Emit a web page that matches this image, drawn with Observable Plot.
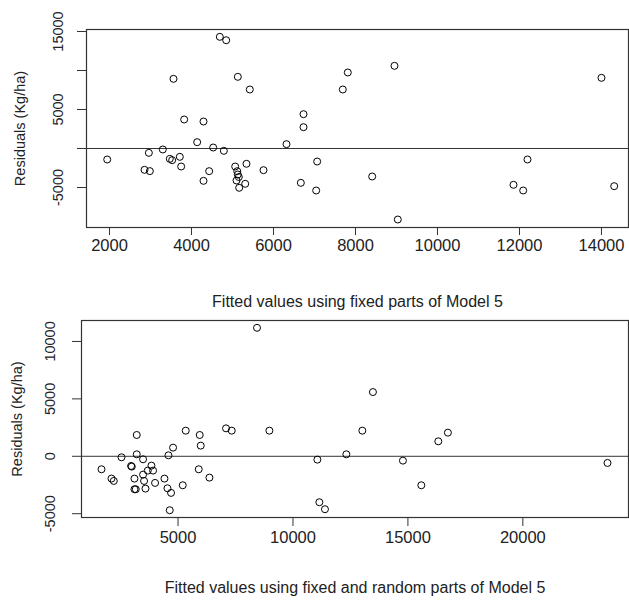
<!DOCTYPE html>
<html>
<head>
<meta charset="utf-8">
<script src="https://cdn.jsdelivr.net/npm/d3@7"></script>
<script src="https://cdn.jsdelivr.net/npm/@observablehq/plot@0.6"></script>
<style>
  html, body { margin: 0; padding: 0; background: #fff; }
  #chart { width: 629px; }
  #chart svg { display: block; }
</style>
</head>
<body>
<div id="chart"></div>
<script>
// Panel 1: fitted values (fixed parts) vs residuals
const fixedX = [1944,2854,2984,2960,3300,3471,3528,3715,3748,3561,3821,4138,4293,4293,4431,4529,4691,4846,4789,5066,5115,5129,5154,5098,5163,5341,5310,5130,5422,5756,6317,6732,6732,6667,7065,7041,7690,7812,8951,8407,9032,14000,12195,11854,12090,14310];
const fixedY = [-1410,-2735,-2900,-555,-128,-1325,-1496,-1068,-2308,8932,3718,812,3461,-4145,-2906,128,14316,13880,-299,-2308,-2910,-3333,-3654,-4103,-5038,-1962,-4526,9188,7564,-2778,556,4402,2735,-4402,-1667,-5385,7564,9744,10598,-3590,-9103,9060,-1410,-4654,-5385,-4830];
// Panel 2: fitted values (fixed + random parts) vs residuals
const fullX = [1670,2104,2204,2539,2957,2987,3204,3204,3104,3104,3161,3478,3478,3522,3583,3683,3843,3913,4000,4409,4539,4696,4639,4583,4783,5204,5335,5900,5943,5987,6365,7087,7335,8435,8974,11061,11148,11391,12322,13017,13478,14783,15583,16322,16739,23683];
const fullY = [-1130,-1940,-2146,-87,-841,-899,1855,174,-1942,-2870,-2870,-261,-1594,-2146,-2812,-1246,-812,-1246,-2319,-1942,-2783,-3188,-4696,87,754,-2522,2232,-1130,1855,928,-1855,2435,2232,11188,2232,-290,-4000,-4609,174,2232,5594,-377,-2522,1304,2058,-580];

const xTicks1 = [2000,4000,6000,8000,10000,12000,14000];
const yTicks1 = [-5000,0,5000,10000,15000];
const yLabels1 = [-5000,5000,15000];
const xTicks2 = [5000,10000,15000,20000];
const yTicks2 = [-5000,0,5000,10000];
const yLabels2 = [-5000,0,5000,10000];

const xTitle1 = "Fitted values using fixed parts of Model 5";
const xTitle2 = "Fitted values using fixed and random parts of Model 5";
const yTitle = "Residuals (Kg/ha)";

const FONT = "Liberation Sans, Arial, sans-serif";
const INK = "#333";
const TXT = "#222";

function panel({xs, ys, xDomain, yDomain, height, mt, mb, ml, xTicks, yTicks, yLabels, xTitle, xTickSize, xPad, yTickSize, yLabelDx, titleDy, yTitleDx}) {
  const pts = xs.map((x, i) => ({x, y: ys[i]}));
  return Plot.plot({
    width: 629, height,
    marginTop: mt, marginBottom: mb, marginLeft: ml, marginRight: 1,
    style: {fontFamily: FONT, fontSize: "16px", color: TXT, background: "#fff"},
    x: {domain: xDomain},
    y: {domain: yDomain},
    marks: [
      Plot.frame({stroke: INK, strokeWidth: 1.2}),
      Plot.ruleY([0], {stroke: INK, strokeWidth: 1}),
      Plot.dot(pts, {x: "x", y: "y", r: 3.5, stroke: "#000", strokeWidth: 1, fill: "none"}),
      Plot.axisX({ticks: xTicks, tickSize: xTickSize, tickPadding: xPad, tickFormat: d => String(d), label: null, stroke: INK, fontSize: 16.5, lineAnchor: "top", fill: TXT}),
      Plot.axisY({ticks: yTicks, tickSize: yTickSize, tickFormat: () => "", label: null, stroke: INK}),
      Plot.text(yLabels, {y: d => d, text: d => String(d), frameAnchor: "left", dx: yLabelDx, rotate: -90, textAnchor: "middle", lineAnchor: "middle", fontSize: 14.5, fill: TXT}),
      Plot.text([xTitle], {frameAnchor: "bottom", dy: titleDy, text: d => d, lineAnchor: "middle", textAnchor: "middle", fontSize: 16, fill: TXT}),
      Plot.text([yTitle], {frameAnchor: "left", dx: yTitleDx, text: d => d, rotate: -90, textAnchor: "middle", lineAnchor: "middle", fontSize: 14.5, fill: TXT})
    ]
  });
}

const chart = document.getElementById("chart");
chart.append(panel({
  xs: fixedX, ys: fixedY,
  xDomain: [1439, 14659], yDomain: [-10128, 15256],
  height: 310, mt: 29, mb: 83, ml: 86,
  xTicks: xTicks1, yTicks: yTicks1, yLabels: yLabels1, xTitle: xTitle1,
  xTickSize: 8, xPad: 4, yTickSize: 9, yLabelDx: -28, titleDy: 74, yTitleDx: -66
}));
chart.append(panel({
  xs: fullX, ys: fullY,
  xDomain: [800, 24596], yDomain: [-5330, 11826],
  height: 294, mt: 10, mb: 87, ml: 81,
  xTicks: xTicks2, yTicks: yTicks2, yLabels: yLabels2, xTitle: xTitle2,
  xTickSize: 9, xPad: 5, yTickSize: 9, yLabelDx: -31, titleDy: 70, yTitleDx: -64
}));
</script>
</body>
</html>
